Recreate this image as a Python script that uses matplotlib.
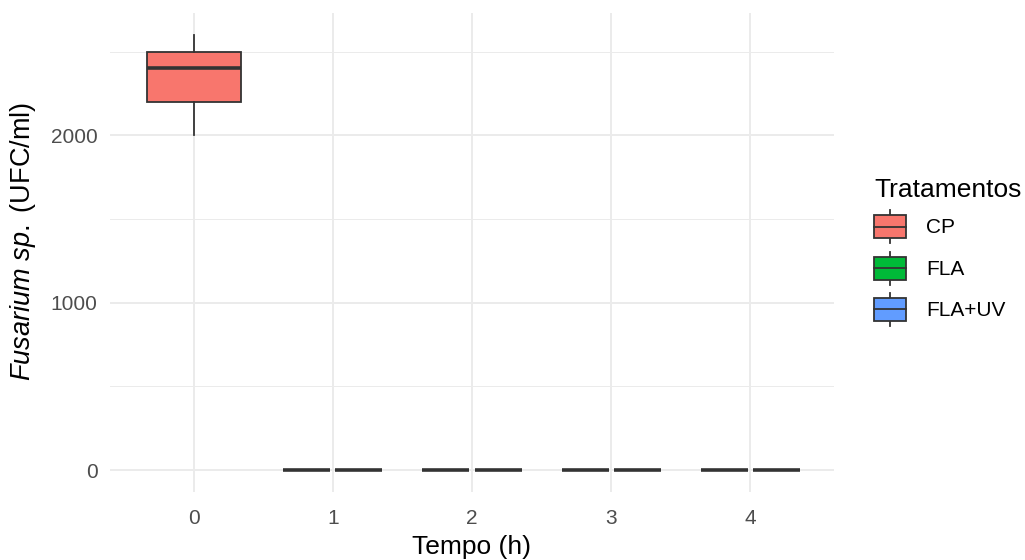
import numpy as np
import pandas as pd
import matplotlib
matplotlib.use("Agg")
import matplotlib.pyplot as plt
from matplotlib.patches import Rectangle
from matplotlib.lines import Line2D
from matplotlib.legend_handler import HandlerBase


# dados: contagem de Fusarium sp. (UFC/ml) por tempo e tratamento
tempo_h = [0, 0, 0,
           1, 1, 1, 1, 1, 1,
           2, 2, 2, 2, 2, 2,
           3, 3, 3, 3, 3, 3,
           4, 4, 4, 4, 4, 4]
tratamento = ["CP", "CP", "CP"] + ["FLA", "FLA", "FLA", "FLA+UV", "FLA+UV", "FLA+UV"] * 4
ufc_ml = [2000, 2400, 2600] + [0, 0, 0, 0, 0, 0] * 4

tempos = [0, 1, 2, 3, 4]
niveis = ["CP", "FLA", "FLA+UV"]
cores = ["#F8766D", "#00BA38", "#619CFF"]

df = pd.DataFrame({"tempo": tempo_h, "trat": tratamento, "ufc": ufc_ml})

plt.rcParams["font.family"] = ["Liberation Sans", "DejaVu Sans"]
plt.rcParams["mathtext.fontset"] = "custom"
plt.rcParams["mathtext.rm"] = "Liberation Sans"
plt.rcParams["mathtext.it"] = "Liberation Sans:italic"

GRID = "#EBEBEB"
LINHA = "#333333"

fig = plt.figure(figsize=(10.25, 5.6), dpi=100)
ax = fig.add_axes([110 / 1025, 1 - 492 / 560, 724 / 1025, 479 / 560])

# boxplots com dodge (estilo ggplot)
for t in tempos:
    sub = df[df["tempo"] == t]
    grupos = [g for g in niveis if g in sub["trat"].values]
    n = len(grupos)
    larg = 0.75 / n
    for i, g in enumerate(grupos):
        pos = t - 0.375 + larg * (i + 0.5)
        vals = sub.loc[sub["trat"] == g, "ufc"].values
        bp = ax.boxplot([vals], positions=[pos], widths=[larg * 0.9],
                        patch_artist=True, showcaps=False, showfliers=False,
                        whis=1.5, manage_ticks=False, zorder=3)
        for b in bp["boxes"]:
            b.set_facecolor(cores[niveis.index(g)])
            b.set_edgecolor(LINHA)
            b.set_linewidth(1.3)
        for w in bp["whiskers"]:
            w.set_color(LINHA)
            w.set_linewidth(1.3)
        for m in bp["medians"]:
            m.set_color(LINHA)
            m.set_linewidth(2.6)

ax.set_xlim(-0.6, 4.6)
ax.set_ylim(-130, 2730)
ax.set_xticks(tempos)
ax.set_xticklabels([str(t) for t in tempos])
ax.set_yticks([0, 1000, 2000])
ax.set_yticks([500, 1500, 2500], minor=True)

ax.grid(True, which="major", color=GRID, linewidth=1.4, zorder=0)
ax.grid(True, which="minor", axis="y", color=GRID, linewidth=0.7, zorder=0)
ax.set_axisbelow(True)
for s in ax.spines.values():
    s.set_visible(False)
ax.tick_params(axis="both", which="both", length=0, labelsize=15, labelcolor="#4D4D4D")
ax.tick_params(axis="y", pad=9)
ax.tick_params(axis="x", pad=12)

ax.set_xlabel("Tempo (h)", fontsize=19, labelpad=5)
ax.set_ylabel(r"$\mathit{Fusarium\ sp.}$ (UFC/ml)", fontsize=19.5)
ax.yaxis.set_label_coords(-0.1, 0.524)


class BoxHandler(HandlerBase):
    def create_artists(self, legend, orig_handle, xdescent, ydescent,
                       width, height, fontsize, trans):
        x0, y0 = -xdescent, -ydescent
        bh = height * 0.7
        by = y0 + (height - bh) / 2
        cx = x0 + width / 2
        rect = Rectangle((x0, by), width, bh, facecolor=orig_handle.get_facecolor(),
                         edgecolor=LINHA, linewidth=1.3, transform=trans)
        med = Line2D([x0, x0 + width], [y0 + height / 2] * 2, color=LINHA,
                     linewidth=1.3, transform=trans)
        w1 = Line2D([cx, cx], [y0, by], color=LINHA, linewidth=1.3, transform=trans)
        w2 = Line2D([cx, cx], [by + bh, y0 + height], color=LINHA, linewidth=1.3, transform=trans)
        return [w1, w2, rect, med]


handles = [Rectangle((0, 0), 1, 1, facecolor=c) for c in cores]
leg = fig.legend(handles, niveis, title="Tratamentos", loc="upper left",
                 bbox_to_anchor=(874 / 1025, 1 - 178 / 560), frameon=False,
                 fontsize=15, title_fontsize=19, handler_map={Rectangle: BoxHandler()},
                 handlelength=1.55, handleheight=2.06, handletextpad=0.95,
                 labelspacing=0.4, borderpad=0, borderaxespad=0, alignment="left")

fig.savefig("out.png", dpi=100)
